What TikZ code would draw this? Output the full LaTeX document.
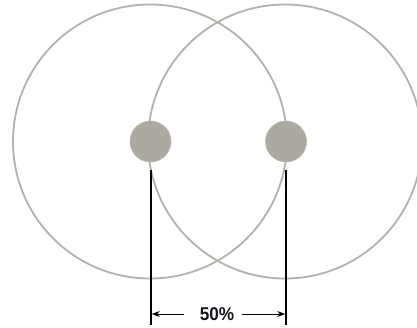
\documentclass[tikz,border=0pt]{standalone}
\usepackage{fontspec}
\setmainfont{Liberation Sans}
\usetikzlibrary{arrows.meta}
\definecolor{ringgray}{RGB}{180,177,172}
\definecolor{dotgray}{RGB}{172,169,163}
\definecolor{labelink}{RGB}{20,20,30}
\tikzset{
  ring/.style={draw=ringgray, line width=1.8pt},
  dot/.style={circle, fill=dotgray, draw=dotgray!85!white, line width=0.6pt, minimum size=41pt, inner sep=0pt},
  guide/.style={draw=black, line width=1.6pt},
  dimarrow/.style={draw=black, line width=1pt, -{Stealth[length=8pt, width=6pt]}},
  dimlabel/.style={text=labelink, font=\bfseries\fontsize{18.5}{18.5}\selectfont, inner sep=0pt, xscale=0.93}
}
\begin{document}
\begin{tikzpicture}[x=1pt, y=-1pt]
  \useasboundingbox (0,0) rectangle (417,327);
  \clip (0,0) rectangle (417,327);
  % two overlapping range circles
  \node[ring, circle, minimum size=274pt, inner sep=0pt] (ringL) at (150,141.5) {};
  \node[ring, circle, minimum size=274pt, inner sep=0pt] (ringR) at (285,141.5) {};
  % centre markers
  \node[dot] (dotL) at (150.5,141.5) {};
  \node[dot] (dotR) at (286,141.5) {};
  % extension lines
  \coordinate (topL) at (151,170);
  \coordinate (botL) at (151,325);
  \coordinate (topR) at (286,170);
  \coordinate (botR) at (286,325);
  \draw[guide] (topL) -- (botL);
  \draw[guide] (topR) -- (botR);
  % spacing dimension
  \node[dimlabel] (pct) at (217,314) {50\%};
  \coordinate (tipL) at (151.8,314);
  \coordinate (tipR) at (285.2,314);
  \draw[dimarrow] ([xshift=-16pt]pct.west |- tipL) -- (tipL);
  \draw[dimarrow] ([xshift=8pt]pct.east |- tipR) -- (tipR);
\end{tikzpicture}
\end{document}
